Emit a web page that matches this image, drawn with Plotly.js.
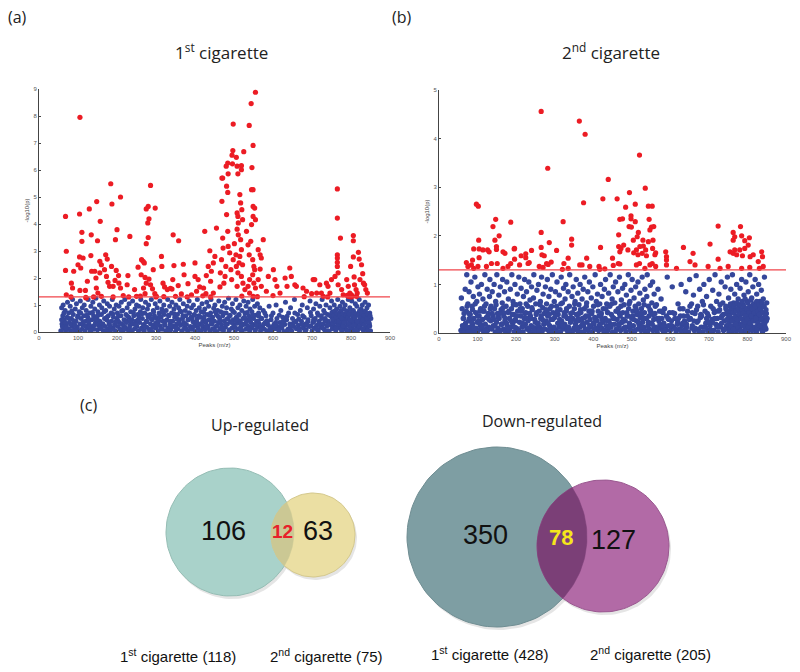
<!DOCTYPE html>
<html>
<head>
<meta charset="utf-8">
<script src="https://cdn.plot.ly/plotly-3.0.1.min.js"></script>
<style>
  body { margin: 0; background: #fff; }
  #chart { width: 800px; height: 672px; }
</style>
</head>
<body>
<div id="chart"></div>
<script>
// ---- data: [peak m/z, -log10(p)] ----
var threshold = 1.3;

var redA = [
  [105,7.95],[555,8.88],[544,8.46],[498,7.7],[539,7.65],[549,6.91],[497,6.72],[525,6.68],[495,6.55],[506,6.47],
  [484,6.26],[480,6.14],[496,6.23],[508,6.14],[519,6.16],[519,6.01],[546,6.09],[485,5.86],[510,5.86],[469,5.7],
  [68,4.28],[70,2.99],[68,2.28],[70,1.38],[104,4.37],[110,3.69],[110,3.36],[104,2.78],[100,2.49],[89,2.25],
  [83,1.81],[86,1.63],[82,1.3],[113,2.74],[107,2.37],[105,1.54],[129,4.56],[134,3.6],[148,4.83],[150,3.38],
  [133,2.83],[135,2.25],[124,1.88],[119,1.54],[121,1.26],[143,2.25],[146,2.0],[156,2.19],[157,4.1],[156,2.62],
  [147,1.63],[151,1.44],[184,5.49],[187,4.74],[171,2.86],[175,2.7],[160,2.49],[168,2.31],[173,2.06],[177,1.84],
  [181,1.69],[186,2.43],[198,2.28],[196,3.42],[200,3.79],[209,5.0],[204,2.09],[195,1.91],[205,1.81],[190,1.69],
  [209,1.63],[216,1.35],[228,2.09],[233,3.54],[226,1.75],[245,1.57],[254,2.4],[263,2.68],[267,2.62],[270,2.56],
  [262,2.12],[272,2.02],[275,1.81],[268,1.63],[272,1.42],[250,1.32],[275,3.27],[280,3.5],[279,4.04],[282,4.19],
  [275,4.56],[280,4.65],[286,5.43],[298,4.59],[293,2.31],[282,1.96],[286,1.75],[291,1.6],[297,1.42],[301,1.32],
  [314,2.8],[315,2.43],[318,1.81],[322,1.67],[329,1.57],[337,1.62],[341,1.59],[344,3.6],[346,2.46],[343,1.94],
  [357,1.72],[358,3.38],[365,1.41],[370,2.51],[372,2.12],[382,1.79],[391,1.38],[400,2.56],[400,2.06],[404,1.51],
  [408,1.94],[412,1.67],[422,1.63],[425,3.73],[428,1.42],[429,2.09],[434,2.43],[438,3.01],[440,1.88],[442,2.25],
  [447,2.56],[451,2.8],[455,3.85],[447,1.44],[464,1.67],[465,2.19],[468,2.68],[471,3.48],[472,3.11],[469,4.84],
  [471,5.7],[481,5.4],[484,5.17],[481,4.35],[484,3.73],[485,3.17],[479,2.43],[477,2.06],[474,1.81],[489,2.93],
  [492,2.31],[494,1.94],[498,2.68],[501,3.27],[505,2.86],[506,2.43],[508,4.41],[510,4.28],[511,4.04],[508,3.81],
  [511,3.6],[515,5.09],[517,4.78],[520,4.53],[522,4.16],[517,3.42],[519,3.05],[515,2.8],[513,2.56],[522,2.49],
  [510,2.19],[519,2.06],[523,1.81],[508,1.69],[528,1.57],[532,3.73],[536,3.23],[539,2.86],[545,5.27],[549,5.27],
  [549,4.65],[553,4.59],[549,4.28],[555,4.16],[545,3.98],[543,3.36],[548,2.68],[551,2.43],[553,2.31],[548,2.12],
  [540,1.94],[551,1.81],[536,1.69],[555,1.63],[540,1.44],[549,1.32],[562,3.05],[567,2.86],[570,2.74],[575,3.42],
  [567,2.33],[562,1.94],[570,1.69],[583,1.51],[588,2.06],[601,2.31],[605,1.94],[610,1.69],[618,1.44],[631,2.0],
  [636,1.69],[643,2.37],[647,2.06],[656,1.75],[660,1.69],[677,1.63],[686,1.51],[699,1.42],[703,1.94],[707,1.94],
  [712,1.44],[720,1.75],[724,1.44],[729,1.32],[737,1.81],[741,1.69],[750,1.94],[746,1.44],[759,2.06],[765,5.3],
  [765,4.22],[765,2.86],[765,2.74],[765,2.58],[765,2.43],[767,2.19],[773,3.48],[767,1.75],[776,1.57],[780,1.38],
  [789,1.94],[793,1.69],[797,1.44],[799,2.43],[801,1.38],[804,1.32],[806,3.57],[806,3.38],[806,2.78],[808,2.04],
  [809,1.75],[813,1.57],[816,1.44],[819,2.95],[821,2.7],[823,1.94],[827,2.49],[830,2.16],[832,1.81],[835,1.75],
  [838,1.57],[842,1.44],[814,1.32],[793,1.32],
  [120,1.28],[140,1.3],[160,1.32],[190,1.3],[230,1.3],[260,1.33],[300,1.3],[320,1.31],[350,1.32],[380,1.3],
  [420,1.34],[440,1.3],[520,1.33],[560,1.31],[600,1.35],[680,1.31],[740,1.3],[790,1.36],[800,1.3]
];

var blueA = [
  [56,0.05],[58,0.9],[59,0.3],[61,0.6],[62,1.0],[63,0.15],[65,0.45],[67,0.8],[68,0.05],[70,0.25],[72,0.55],[73,1.1],
  [75,0.12],[76,0.7],[78,0.35],[80,0.95],[81,0.05],[83,0.5],[85,0.2],[86,1.2],[88,0.65],[90,0.3],[91,0.08],[93,0.85],
  [95,0.4],[96,1.05],[98,0.18],[100,0.6],[101,0.02],[103,0.75],[105,0.3],[106,1.15],[108,0.5],[110,0.1],[111,0.9],
  [113,0.25],[115,0.6],[116,1.0],[118,0.05],[120,0.4],[121,0.8],[123,0.15],[125,0.55],[126,1.2],[128,0.3],[130,0.7],
  [131,0.02],[133,0.95],[135,0.45],[136,0.2],[138,1.1],[140,0.6],[141,0.1],[143,0.85],[145,0.35],[146,1.25],[148,0.5],
  [150,0.08],[151,0.75],[153,0.25],[155,1.0],[156,0.4],[158,0.12],[160,0.65],[161,0.9],[163,0.3],[165,0.05],[166,1.15],
  [168,0.5],[170,0.2],[171,0.8],[173,0.45],[175,1.05],[176,0.1],[178,0.6],[180,0.3],[181,0.95],[183,0.02],[185,0.7],
  [186,0.4],[188,1.2],[190,0.15],[191,0.55],[193,0.85],[195,0.25],[196,0.05],[198,1.0],[200,0.5],[201,0.7],[203,0.2],
  [205,0.95],[206,0.35],[208,0.1],[210,0.6],[211,1.1],[213,0.3],[215,0.8],[216,0.05],[218,0.45],[220,1.2],[221,0.18],
  [223,0.65],[225,0.4],[226,0.9],[228,0.08],[230,0.55],[231,1.05],[233,0.25],[235,0.75],[236,0.02],[238,0.45],[240,1.15],
  [241,0.3],[243,0.6],[245,0.12],[246,0.85],[248,0.4],[250,1.0],[251,0.2],[253,0.65],[255,0.05],[256,0.95],[258,0.35],
  [260,0.75],[261,1.2],[263,0.15],[265,0.5],[266,0.9],[268,0.28],[270,0.05],[271,0.7],[273,1.1],[275,0.4],[276,0.18],
  [278,0.85],[280,0.55],[281,1.0],[283,0.1],[285,0.65],[286,0.3],[288,1.2],[290,0.45],[291,0.02],[293,0.8],[295,0.25],
  [296,0.6],[298,1.05],[300,0.15],[301,0.5],[303,0.9],[305,0.35],[306,0.05],[308,0.7],[310,1.15],[311,0.22],[313,0.55],
  [315,0.85],[316,0.1],[318,0.4],[320,1.0],[321,0.65],[323,0.25],[325,0.05],[326,0.8],[328,0.45],[330,1.2],[331,0.15],
  [333,0.6],[335,0.95],[336,0.3],[338,0.08],[340,0.7],[341,1.1],[343,0.4],[345,0.2],[346,0.85],[348,0.55],[350,0.02],
  [351,1.0],[353,0.3],[355,0.65],[356,0.12],[358,0.9],[360,0.45],[361,1.2],[363,0.25],[365,0.75],[366,0.05],[368,0.5],
  [370,1.05],[371,0.35],[373,0.15],[375,0.8],[376,0.6],[378,0.28],[380,0.95],[381,0.05],[383,0.45],[385,1.15],[386,0.7],
  [388,0.2],[390,0.55],[391,0.9],[393,0.1],[395,0.38],[396,1.0],[398,0.65],[400,0.25],[401,0.02],[403,0.8],[405,0.48],
  [406,1.2],[408,0.15],[410,0.6],[411,0.9],[413,0.3],[415,0.05],[416,0.75],[418,1.05],[420,0.4],[421,0.18],[423,0.55],
  [425,0.85],[426,0.08],[428,0.35],[430,1.1],[431,0.65],[433,0.22],[435,0.95],[436,0.45],[438,0.05],[440,0.7],[441,1.2],
  [443,0.3],[445,0.55],[446,0.12],[448,0.88],[450,0.4],[451,1.0],[453,0.2],[455,0.65],[456,0.02],[458,0.8],[460,0.35],
  [461,1.15],[463,0.5],[465,0.1],[466,0.75],[468,0.28],[470,0.95],[471,0.6],[473,0.05],[475,0.42],[476,1.1],[478,0.18],
  [480,0.7],[481,0.9],[483,0.3],[485,0.5],[486,1.25],[488,0.08],[490,0.62],[491,0.38],[493,0.85],[495,0.15],[496,1.05],
  [498,0.45],[500,0.25],[501,0.72],[503,0.02],[505,1.2],[506,0.55],[508,0.32],[510,0.9],[511,0.12],[513,0.65],[515,1.0],
  [516,0.4],[518,0.2],[520,0.8],[521,0.05],[523,0.5],[525,1.15],[526,0.3],[528,0.7],[530,0.1],[531,0.95],[533,0.45],
  [535,0.22],[536,1.1],[538,0.6],[540,0.05],[541,0.85],[543,0.35],[545,0.15],[546,0.75],[548,1.2],[550,0.5],[551,0.28],
  [553,0.95],[555,0.08],[556,0.62],[558,0.4],[560,1.05],[561,0.18],[563,0.7],[565,0.3],[566,0.9],[568,0.05],[570,0.5],
  [573,0.2],[575,0.8],[578,0.1],[580,0.35],[582,0.6],[585,0.05],[588,0.25],[590,0.95],[593,0.15],[595,0.45],[598,0.08],
  [600,0.7],[603,0.3],[605,0.12],[608,1.0],[610,0.5],[612,0.2],[615,0.05],[618,0.35],[620,0.8],[623,0.15],[625,0.55],
  [628,0.02],[630,0.28],[632,1.1],[635,0.45],[638,0.1],[640,0.7],[643,0.3],[645,0.9],[648,0.05],[650,0.5],[653,0.2],
  [655,1.2],[658,0.38],[660,0.12],[663,0.65],[665,0.25],[668,0.05],[670,0.8],[673,0.4],[675,1.0],[678,0.15],[680,0.55],
  [683,0.3],[685,0.08],[688,0.9],[690,0.45],[693,0.2],[695,1.15],[698,0.6],[700,0.05],[702,0.35],[704,0.85],[706,0.15],
  [708,0.5],[710,1.05],[712,0.25],[714,0.7],[716,0.05],[718,0.4],[720,0.95],[722,0.18],[724,0.6],[726,1.2],[728,0.3],
  [730,0.8],[732,0.08],[734,0.5],[736,1.0],[738,0.22],[740,0.65],[742,0.4],[744,0.02],[746,0.9],[748,0.3],[750,1.15],
  [751,0.55],[752,0.12],[754,0.75],[755,0.4],[757,1.0],[758,0.2],[760,0.6],[761,0.05],[763,0.85],[764,0.35],[766,1.2],
  [767,0.5],[769,0.15],[770,0.7],[772,0.95],[773,0.28],[775,0.45],[776,0.05],[778,1.1],[779,0.62],[781,0.2],[782,0.85],
  [784,0.38],[785,1.0],[787,0.1],[788,0.55],[790,0.75],[791,0.25],[793,1.2],[794,0.45],[796,0.05],[797,0.9],[799,0.32],
  [800,0.65],[802,1.15],[803,0.15],[805,0.5],[806,0.8],[808,0.02],[809,0.4],[811,1.05],[812,0.6],[814,0.22],[815,0.95],
  [817,0.35],[818,0.08],[820,0.7],[821,1.2],[823,0.48],[824,0.15],[826,0.85],[827,0.3],[829,1.0],[830,0.55],[832,0.05],
  [833,0.75],[835,0.4],[836,1.1],[838,0.2],[839,0.62],[841,0.9],[842,0.1],[844,0.45],[845,1.0],[847,0.3],[848,0.7],
  [850,0.05],[851,0.5]
];

var blueA_low = [
  [60,0.2],[67,0.35],[74,0.1],[82,0.28],[89,0.42],[97,0.15],[104,0.05],[112,0.32],[119,0.22],[127,0.4],[134,0.08],
  [142,0.25],[149,0.45],[157,0.18],[164,0.3],[172,0.02],[179,0.38],[187,0.12],[194,0.28],[202,0.42],[209,0.08],[217,0.22],
  [224,0.35],[232,0.15],[239,0.05],[247,0.3],[254,0.45],[262,0.1],[269,0.25],[277,0.38],[284,0.02],[292,0.18],[299,0.32],
  [307,0.42],[314,0.12],[322,0.28],[329,0.05],[337,0.4],[344,0.22],[352,0.15],[359,0.35],[367,0.02],[374,0.28],[382,0.45],
  [389,0.1],[397,0.2],[404,0.38],[412,0.05],[419,0.25],[427,0.42],[434,0.15],[442,0.32],[449,0.08],[457,0.22],[464,0.4],
  [472,0.12],[479,0.3],[487,0.02],[494,0.35],[502,0.18],[509,0.45],[517,0.08],[524,0.28],[532,0.38],[539,0.12],[547,0.22],
  [554,0.05],[562,0.4],[569,0.15],[577,0.3],[584,0.42],[592,0.02],[599,0.2],[607,0.35],[614,0.1],[622,0.25],[629,0.42],
  [637,0.05],[644,0.18],[652,0.32],[659,0.4],[667,0.12],[674,0.28],[682,0.05],[689,0.38],[697,0.22],[704,0.45],[712,0.1],
  [719,0.3],[727,0.15],[734,0.4],[741,0.05],[749,0.25],[753,0.32],[758,0.42],[762,0.15],[767,0.28],[771,0.38],[776,0.1],
  [780,0.22],[785,0.45],[789,0.05],[794,0.3],[798,0.18],[803,0.4],[807,0.25],[812,0.08],[816,0.35],[821,0.2],[825,0.45],
  [830,0.12],[834,0.28],[839,0.38],[843,0.05],[848,0.22]
];

var blueA_mid = [
  [58,0.45],[64,0.7],[69,0.15],[77,0.5],[84,0.78],[92,0.25],[99,0.55],[107,0.7],[114,0.38],[122,0.62],[129,0.2],
  [137,0.72],[144,0.48],[152,0.62],[159,0.15],[167,0.75],[174,0.55],[182,0.22],[189,0.68],[197,0.38],[204,0.6],[212,0.78],
  [219,0.12],[227,0.58],[234,0.42],[242,0.72],[249,0.28],[257,0.55],[264,0.68],[272,0.2],[279,0.62],[287,0.5],[294,0.75],
  [302,0.28],[309,0.58],[317,0.72],[324,0.4],[332,0.62],[339,0.22],[347,0.68],[354,0.48],[362,0.78],[369,0.6],[377,0.12],
  [384,0.7],[392,0.5],[399,0.62],[407,0.3],[414,0.55],[422,0.72],[429,0.2],[437,0.62],[444,0.42],[452,0.75],[459,0.58],
  [467,0.15],[474,0.7],[482,0.48],[489,0.6],[497,0.78],[504,0.42],[512,0.62],[519,0.3],[527,0.55],[534,0.72],[542,0.48],
  [549,0.62],[557,0.25],[564,0.58],[571,0.5],[579,0.7],[586,0.38],[596,0.6],[606,0.25],[616,0.62],[626,0.4],[636,0.58],
  [646,0.22],[656,0.7],[666,0.48],[676,0.6],[686,0.25],[696,0.72],[706,0.42],[716,0.62],[725,0.5],[733,0.7],[740,0.28],
  [747,0.6],[751,0.72],[753,0.48],[756,0.62],[759,0.78],[762,0.55],[765,0.68],[768,0.4],[771,0.6],[774,0.8],[777,0.52],
  [780,0.68],[783,0.35],[786,0.62],[789,0.78],[792,0.55],[795,0.68],[798,0.45],[801,0.8],[804,0.62],[807,0.72],[810,0.52],
  [813,0.68],[816,0.4],[819,0.62],[822,0.8],[825,0.55],[828,0.68],[831,0.45],[834,0.6],[837,0.78],[840,0.52],[843,0.68],
  [846,0.35],[849,0.6]
];

var redB = [
  [265,4.56],[364,4.36],[379,4.09],[520,3.66],[282,3.39],[439,3.16],[535,2.98],[494,2.89],[425,2.76],[462,2.76],
  [375,2.68],[97,2.65],[102,2.61],[484,2.59],[509,2.65],[543,2.61],[553,2.61],[545,2.34],[147,2.34],[476,2.35],
  [498,2.41],[498,2.35],[509,2.29],[322,2.29],[186,2.28],[140,2.19],[469,2.34],[724,2.2],[782,2.19],[493,2.19],
  [499,2.18],[551,2.18],[557,2.19],[547,2.12],[265,2.07],[517,2.07],[514,1.98],[156,2.0],[763,2.07],[767,1.98],
  [785,2.0],[805,1.96],[466,2.02],[103,1.91],[145,1.91],[344,1.93],[504,1.91],[529,1.91],[543,1.88],[555,1.91],
  [763,1.91],[793,1.9],[90,1.73],[104,1.73],[149,1.78],[149,1.72],[195,1.73],[286,1.86],[344,1.81],[265,1.76],
  [419,1.76],[466,1.78],[472,1.74],[469,1.67],[479,1.81],[490,1.71],[505,1.65],[512,1.71],[521,1.78],[530,1.79],
  [536,1.71],[527,1.64],[516,1.61],[538,1.59],[554,1.74],[560,1.61],[562,1.65],[588,1.67],[590,1.57],[590,1.5],
  [634,1.76],[659,1.64],[703,1.83],[724,1.52],[755,1.67],[763,1.64],[767,1.71],[772,1.61],[780,1.71],[787,1.59],
  [793,1.74],[802,1.81],[807,1.57],[815,1.61],[828,1.47],[837,1.67],[839,1.57],[841,1.37],[114,1.71],[126,1.71],
  [130,1.67],[166,1.67],[171,1.64],[196,1.74],[213,1.59],[225,1.63],[240,1.7],[231,1.43],[234,1.45],[267,1.61],
  [273,1.59],[279,1.43],[283,1.41],[291,1.46],[305,1.7],[324,1.43],[335,1.54],[371,1.4],[383,1.54],[415,1.37],
  [417,1.31],[450,1.54],[465,1.43],[469,1.42],[512,1.4],[520,1.43],[534,1.33],[547,1.4],[553,1.43],[562,1.37],
  [71,1.45],[75,1.37],[84,1.4],[87,1.5],[90,1.33],[101,1.37],[104,1.55],[123,1.37],[136,1.43],[151,1.43],
  [166,1.33],[179,1.37],[186,1.43],[196,1.52],[209,1.4],[225,1.55],[260,1.37],[270,1.35],[320,1.31],[335,1.33],
  [365,1.4],[391,1.37],[430,1.32],[452,1.39],[590,1.4],[616,1.33],[651,1.47],[664,1.4],[698,1.37],[729,1.33],
  [750,1.37],[806,1.35],[831,1.33],[785,1.33]
];

var blueB = [
  [57,0.05],[58,0.72],[60,0.5],[62,0.1],[64,0.3],[66,0.02],[68,0.9],[69,0.2],[71,0.45],[72,1.2],[74,0.08],[75,0.6],
  [77,0.25],[78,0.85],[80,0.12],[81,0.38],[83,1.05],[84,0.05],[86,0.55],[87,0.18],[89,0.75],[90,0.3],[92,0.02],[93,1.15],
  [95,0.42],[96,0.1],[98,0.65],[99,0.22],[101,0.95],[102,0.05],[104,0.35],[105,0.8],[107,0.15],[108,0.5],[110,1.0],
  [111,0.08],[113,0.28],[114,0.7],[116,0.02],[117,0.45],[119,1.2],[120,0.18],[122,0.6],[123,0.32],[125,0.9],[126,0.05],
  [128,0.4],[129,0.12],[131,0.75],[132,1.1],[134,0.25],[135,0.55],[137,0.08],[138,0.85],[140,0.35],[141,0.15],[143,1.0],
  [144,0.5],[146,0.02],[147,0.65],[149,0.22],[150,1.2],[152,0.4],[153,0.1],[155,0.78],[156,0.3],[158,0.05],[159,0.95],
  [161,0.48],[162,0.18],[164,0.62],[165,1.1],[167,0.08],[168,0.35],[170,0.85],[171,0.25],[173,0.02],[174,0.55],[176,1.05],
  [177,0.15],[179,0.42],[180,0.7],[182,0.05],[183,0.3],[185,0.9],[186,0.12],[188,0.5],[189,1.2],[191,0.2],[192,0.65],
  [194,0.38],[195,0.02],[197,1.0],[198,0.28],[200,0.58],[201,0.1],[203,0.8],[204,0.45],[206,0.05],[207,1.15],[209,0.22],
  [210,0.6],[212,0.35],[213,0.92],[215,0.12],[216,0.5],[218,0.02],[219,0.75],[221,0.3],[222,1.1],[224,0.18],[225,0.42],
  [227,0.85],[228,0.08],[230,0.55],[231,0.25],[233,1.05],[234,0.05],[236,0.68],[237,0.35],[239,0.15],[240,0.95],[242,0.48],
  [243,0.02],[245,0.72],[246,1.2],[248,0.28],[249,0.1],[251,0.6],[252,0.38],[254,0.88],[255,0.05],[257,0.2],[258,1.0],
  [260,0.45],[261,0.12],[263,0.65],[264,0.3],[266,1.15],[267,0.02],[269,0.52],[270,0.8],[272,0.18],[273,0.4],[275,0.08],
  [276,0.95],[278,0.25],[279,0.6],[281,1.1],[282,0.35],[284,0.05],[285,0.75],[287,0.15],[288,0.5],[290,0.9],[291,0.28],
  [293,0.02],[294,1.2],[296,0.42],[297,0.1],[299,0.65],[300,0.32],[302,0.85],[303,0.05],[305,0.55],[306,1.05],[308,0.2],
  [309,0.38],[311,0.12],[312,0.78],[314,0.48],[315,0.02],[317,1.15],[318,0.25],[320,0.62],[321,0.08],[323,0.92],[324,0.35],
  [326,0.18],[327,0.7],[329,1.0],[330,0.45],[332,0.05],[333,0.3],[335,0.85],[336,0.12],[338,0.55],[339,1.2],[341,0.22],
  [342,0.4],[344,0.02],[345,0.75],[347,0.3],[348,0.95],[350,0.1],[351,0.5],[353,0.65],[354,0.18],[356,1.1],[357,0.38],
  [359,0.05],[360,0.82],[362,0.25],[363,0.58],[365,0.12],[366,1.0],[368,0.42],[369,0.02],[371,0.7],[372,0.3],[374,0.9],
  [375,0.15],[377,0.5],[378,1.15],[380,0.08],[381,0.35],[383,0.62],[384,0.22],[386,0.85],[387,0.05],[389,0.45],[390,1.05],
  [392,0.28],[393,0.12],[395,0.72],[396,0.4],[398,0.02],[399,0.95],[401,0.55],[402,0.18],[404,0.32],[405,1.2],[407,0.08],
  [408,0.65],[410,0.25],[411,0.8],[413,0.45],[414,0.05],[416,0.15],[417,0.6],[419,1.0],[420,0.35],[422,0.1],[423,0.75],
  [425,0.22],[426,0.5],[428,0.02],[429,0.9],[431,0.3],[432,1.1],[434,0.15],[435,0.6],[437,0.42],[438,0.05],[440,0.82],
  [441,0.25],[443,0.55],[444,1.2],[446,0.12],[447,0.38],[449,0.7],[450,0.02],[452,0.95],[453,0.3],[455,0.18],[456,0.62],
  [458,1.05],[459,0.45],[461,0.08],[462,0.28],[464,0.85],[465,0.5],[467,0.15],[468,1.15],[470,0.35],[471,0.05],[473,0.68],
  [474,0.22],[476,0.92],[477,0.42],[479,0.1],[480,0.58],[482,1.0],[483,0.25],[485,0.02],[486,0.78],[488,0.35],[489,0.12],
  [491,1.2],[492,0.5],[494,0.2],[495,0.65],[497,0.05],[498,0.88],[500,0.3],[501,1.1],[503,0.45],[504,0.15],[506,0.72],
  [507,0.02],[509,0.55],[510,0.95],[512,0.25],[513,0.38],[515,0.08],[516,1.05],[518,0.6],[519,0.18],[521,0.82],[522,0.32],
  [524,0.05],[525,0.5],[527,1.15],[528,0.22],[530,0.68],[531,0.12],[533,0.42],[534,0.9],[536,0.02],[537,0.3],[539,0.75],
  [540,1.2],[542,0.15],[543,0.55],[545,0.35],[546,0.08],[548,0.98],[549,0.45],[551,0.2],[552,0.62],[554,1.05],[555,0.05],
  [557,0.28],[558,0.8],[560,0.4],[562,0.12],[564,0.58],[566,0.02],[568,0.9],[570,0.25],[572,0.45],[574,0.1],[576,0.7],
  [578,0.3],[580,0.05],[583,0.2],[585,0.5],[588,0.08],[590,0.35],[592,1.15],[595,0.15],[598,0.42],[600,0.05],[603,0.25],
  [605,0.95],[608,0.12],[612,0.3],[615,0.02],[618,0.18],[620,0.6],[623,0.08],[626,0.35],[628,1.0],[630,0.15],[633,0.5],
  [635,0.05],[637,0.25],[640,0.85],[642,0.12],[645,0.45],[647,0.02],[650,1.1],[652,0.3],[655,0.6],[657,0.15],[660,0.78],
  [662,0.05],[664,0.4],[667,1.18],[669,0.22],[671,0.55],[673,0.08],[676,0.9],[678,0.32],[680,0.12],[683,0.65],[685,0.02],
  [687,1.0],[690,0.45],[692,0.2],[694,0.75],[697,0.05],[699,0.35],[701,1.1],[703,0.15],[705,0.55],[708,0.28],[710,0.88],
  [712,0.05],[714,0.42],[716,1.2],[718,0.18],[720,0.65],[722,0.3],[724,0.02],[726,0.8],[728,0.48],[730,0.12],[732,1.05],
  [734,0.35],[736,0.62],[738,0.05],[740,0.25],[742,0.95],[744,0.5],[746,0.15],[748,1.15],[749,0.38],[751,0.72],[752,0.08],
  [754,0.55],[755,0.25],[757,0.9],[758,0.42],[760,0.02],[761,1.2],[763,0.3],[764,0.62],[766,0.15],[767,0.8],[769,0.48],
  [770,0.05],[772,1.0],[773,0.35],[775,0.22],[776,0.7],[778,0.55],[779,0.1],[781,0.92],[782,0.4],[784,0.18],[785,1.1],
  [787,0.6],[788,0.28],[790,0.02],[791,0.78],[793,0.45],[794,0.12],[796,1.05],[797,0.35],[799,0.65],[800,0.2],[802,0.85],
  [803,0.05],[805,0.5],[806,1.2],[808,0.3],[809,0.15],[811,0.72],[812,0.42],[814,0.95],[815,0.08],[817,0.58],[818,0.25],
  [820,1.1],[821,0.38],[823,0.02],[824,0.8],[826,0.5],[827,0.18],[829,1.0],[830,0.32],[832,0.65],[833,0.1],[835,0.45],
  [836,0.88],[838,0.05],[839,0.28],[841,0.7],[842,0.55],[844,1.15],[845,0.2],[847,0.4],[848,0.08],[850,0.62],[851,0.3]
];

var blueB_low = [
  [63,0.3],[70,0.12],[78,0.4],[85,0.22],[93,0.05],[100,0.35],[108,0.18],[115,0.45],[123,0.08],[130,0.28],[138,0.4],
  [145,0.15],[153,0.32],[160,0.05],[168,0.42],[175,0.2],[183,0.1],[190,0.38],[198,0.25],[205,0.05],[213,0.45],[220,0.15],
  [228,0.3],[235,0.4],[243,0.12],[250,0.22],[258,0.05],[265,0.35],[273,0.2],[280,0.45],[288,0.1],[295,0.28],[303,0.38],
  [310,0.02],[318,0.18],[325,0.42],[333,0.12],[340,0.3],[348,0.05],[355,0.25],[363,0.4],[370,0.15],[378,0.32],[385,0.08],
  [393,0.45],[400,0.2],[408,0.1],[415,0.35],[423,0.28],[430,0.05],[438,0.42],[445,0.18],[453,0.3],[460,0.08],[468,0.4],
  [475,0.22],[483,0.12],[490,0.35],[498,0.05],[505,0.28],[513,0.45],[520,0.15],[528,0.32],[535,0.05],[543,0.22],[550,0.4],
  [558,0.1],[565,0.3],[573,0.18],[581,0.42],[588,0.05],[596,0.28],[604,0.15],[611,0.4],[619,0.22],[627,0.05],[634,0.35],
  [642,0.18],[649,0.28],[657,0.42],[664,0.1],[672,0.25],[679,0.38],[687,0.12],[694,0.3],[702,0.05],[709,0.22],[717,0.45],
  [724,0.15],[732,0.32],[739,0.08],[745,0.4],[750,0.18],[755,0.3],[759,0.1],[764,0.42],[768,0.22],[773,0.05],[777,0.35],
  [782,0.15],[786,0.45],[791,0.28],[795,0.08],[800,0.38],[804,0.2],[809,0.12],[813,0.32],[818,0.42],[822,0.05],[827,0.25],
  [831,0.38],[836,0.15],[840,0.3],[845,0.08],[849,0.4]
];

var blueB_mid = [
  [61,0.15],[65,0.4],[73,0.55],[76,0.02],[79,0.3],[87,0.48],[91,0.1],[94,0.6],[103,0.25],[106,0.45],[112,0.12],[118,0.55],
  [121,0.05],[127,0.35],[133,0.5],[136,0.1],[142,0.28],[148,0.58],[151,0.02],[157,0.4],[163,0.18],[166,0.52],[172,0.3],
  [178,0.08],[181,0.45],[187,0.25],[193,0.58],[196,0.12],[202,0.35],[208,0.02],[211,0.5],[217,0.2],[223,0.4],[226,0.6],
  [232,0.1],[238,0.3],[241,0.52],[247,0.05],[253,0.42],[256,0.18],[262,0.58],[268,0.28],[271,0.08],[277,0.48],[283,0.2],
  [286,0.38],[292,0.55],[298,0.12],[301,0.02],[307,0.45],[313,0.28],[316,0.6],[322,0.15],[328,0.35],[331,0.5],[337,0.05],
  [343,0.25],[346,0.42],[352,0.6],[358,0.1],[361,0.3],[367,0.48],[373,0.2],[376,0.02],[382,0.55],[388,0.35],[391,0.15],
  [397,0.45],[403,0.08],[406,0.28],[412,0.58],[418,0.18],[421,0.4],[427,0.05],[433,0.5],[436,0.25],[442,0.12],[448,0.6],
  [451,0.32],[457,0.02],[463,0.45],[466,0.18],[472,0.55],[478,0.28],[481,0.08],[487,0.42],[493,0.6],[496,0.15],[502,0.35],
  [508,0.05],[511,0.5],[517,0.22],[523,0.4],[526,0.12],[532,0.58],[538,0.3],[541,0.02],[547,0.48],[553,0.18],[556,0.38],
  [561,0.55],[567,0.1],[571,0.3],[577,0.45],[582,0.15],[586,0.05],[594,0.3],[601,0.15],[606,0.42],[613,0.08],[621,0.3],
  [625,0.5],[632,0.2],[639,0.05],[644,0.35],[651,0.55],[656,0.1],[661,0.25],[668,0.48],[674,0.02],[681,0.35],[686,0.58],
  [691,0.12],[696,0.4],[700,0.22],[706,0.05],[711,0.5],[715,0.3],[721,0.12],[725,0.45],[729,0.58],[733,0.2],[737,0.38],
  [741,0.08],[744,0.55],[747,0.28],[750,0.45],[752,0.02],[754,0.35],[756,0.6],[757,0.15],[759,0.5],[761,0.25],[762,0.42],
  [764,0.08],[765,0.55],[767,0.32],[768,0.6],[770,0.18],[771,0.45],[772,0.62],[774,0.28],[776,0.5],[777,0.1],[779,0.38],
  [780,0.58],[782,0.05],[783,0.3],[785,0.48],[786,0.65],[788,0.15],[789,0.4],[791,0.55],[792,0.22],[794,0.7],[795,0.35],
  [797,0.05],[798,0.5],[800,0.28],[801,0.62],[803,0.12],[804,0.42],[806,0.55],[807,0.2],[809,0.68],[810,0.35],[812,0.05],
  [813,0.5],[815,0.25],[816,0.6],[818,0.42],[819,0.12],[821,0.55],[822,0.3],[824,0.65],[825,0.08],[827,0.45],[828,0.2],
  [830,0.58],[831,0.38],[833,0.15],[834,0.5],[836,0.28],[837,0.62],[839,0.02],[840,0.42],[842,0.2],[843,0.55],[845,0.35],
  [846,0.12],[848,0.48],[849,0.25]
];

// ---- Venn counts ----
var upCounts = [106, 12, 63];       // only 1st, both, only 2nd
var upTotals = [118, 75];
var downCounts = [350, 78, 127];
var downTotals = [428, 205];

// ---- styles / geometry ----
var BLUE = '#35479b', RED = '#ec1c24';
var vennUp = { cx: [230, 313], cy: [532, 535], r: [64, 42],
               fill: ['#a9d2ca', '#ebdfa3'], lens: '#cbc894', edge: ['#95bdb4', '#d4c88c'] };
var vennDown = { cx: [497, 603], cy: [537, 546], r: [90, 66],
                 fill: ['#7e9ea3', '#b26aa6'], lens: '#7b3f77', edge: ['#6f8d92', '#9a5890'] };

function col(arr, i) { return arr.map(function (d) { return d[i]; }); }

function circlePts(cx, cy, r) {
  var xs = [], ys = [];
  for (var k = 0; k <= 120; k++) {
    var t = 2 * Math.PI * k / 120;
    xs.push(cx + r * Math.cos(t)); ys.push(cy + r * Math.sin(t));
  }
  return { x: xs, y: ys };
}

function lensPts(g) {
  var dx = g.cx[1] - g.cx[0], dy = g.cy[1] - g.cy[0];
  var d = Math.sqrt(dx * dx + dy * dy);
  var r1 = g.r[0], r2 = g.r[1];
  var a = (r1 * r1 - r2 * r2 + d * d) / (2 * d);
  var phi = Math.atan2(dy, dx);
  var al = Math.acos(a / r1), be = Math.acos((d - a) / r2);
  var xs = [], ys = [], k, t;
  for (k = 0; k <= 40; k++) {
    t = phi - al + 2 * al * k / 40;
    xs.push(g.cx[0] + r1 * Math.cos(t)); ys.push(g.cy[0] + r1 * Math.sin(t));
  }
  for (k = 0; k <= 40; k++) {
    t = phi + Math.PI - be + 2 * be * k / 40;
    xs.push(g.cx[1] + r2 * Math.cos(t)); ys.push(g.cy[1] + r2 * Math.sin(t));
  }
  return { x: xs, y: ys };
}

function vennTraces(g) {
  var out = [];
  for (var i = 0; i < 2; i++) {
    // faint drop shadow under each circle
    var s = circlePts(g.cx[i] + 2, g.cy[i] + 3, g.r[i]);
    out.push({ x: s.x, y: s.y, xaxis: 'x3', yaxis: 'y3', mode: 'lines', fill: 'toself',
      fillcolor: 'rgba(0,0,0,0.10)', line: { width: 0 }, hoverinfo: 'skip' });
  }
  for (i = 0; i < 2; i++) {
    var c = circlePts(g.cx[i], g.cy[i], g.r[i]);
    out.push({ x: c.x, y: c.y, xaxis: 'x3', yaxis: 'y3', mode: 'lines', fill: 'toself',
      fillcolor: g.fill[i], line: { color: g.edge[i], width: 1 }, hoverinfo: 'skip' });
  }
  var l = lensPts(g);
  out.push({ x: l.x, y: l.y, xaxis: 'x3', yaxis: 'y3', mode: 'lines', fill: 'toself',
    fillcolor: g.lens, line: { color: g.lens, width: 0.5 }, hoverinfo: 'skip' });
  return out;
}

function scatterTraces(blue, red, xa, ya, bsize) {
  return [
    { x: col(blue, 0), y: col(blue, 1), xaxis: xa, yaxis: ya, mode: 'markers', type: 'scatter',
      marker: { color: BLUE, size: bsize }, hoverinfo: 'skip' },
    { x: col(red, 0), y: col(red, 1), xaxis: xa, yaxis: ya, mode: 'markers', type: 'scatter',
      marker: { color: RED, size: 5.2 }, hoverinfo: 'skip' },
    { x: [0, 900], y: [threshold, threshold], xaxis: xa, yaxis: ya, mode: 'lines',
      line: { color: '#f0444a', width: 1.2 }, hoverinfo: 'skip' }
  ];
}

var data = []
  .concat(scatterTraces(blueA.concat(blueA_low, blueA_mid), redA, 'x', 'y', 5))
  .concat(scatterTraces(blueB.concat(blueB_low, blueB_mid), redB, 'x2', 'y2', 5.4))
  .concat(vennTraces(vennUp))
  .concat(vennTraces(vennDown));

var tickFont = { family: 'Liberation Sans, Arial', size: 6, color: '#555' };
function xAx(dom) {
  return { domain: dom, range: [0, 900], dtick: 100, ticks: 'inside', ticklen: 2, tickcolor: '#444',
    showline: true, linecolor: '#444', linewidth: 1, showgrid: false, zeroline: false,
    tickfont: tickFont, title: { text: 'Peaks (m/z)', font: { family: 'Liberation Sans, Arial', size: 6, color: '#444' }, standoff: 2 } };
}
function yAx(dom, top) {
  return { domain: dom, range: [0, top], dtick: 1, ticks: 'inside', ticklen: 2, tickcolor: '#444',
    showline: true, linecolor: '#444', linewidth: 1, showgrid: false, zeroline: false,
    tickfont: tickFont, title: { text: '-log10(p)', font: { family: 'Liberation Sans, Arial', size: 6, color: '#444' }, standoff: 3 } };
}

var W = 800, H = 672;
function px(x) { return x / W; }
function py(y) { return 1 - y / H; }

var capFont = { family: 'Open Sans, sans-serif', size: 16, color: '#222' };
var numFont = { family: 'Liberation Sans, Arial', size: 27, color: '#111' };
var lblFont = { family: 'Liberation Sans, Arial', size: 15, color: '#111' };

function pa(x, y, text, font) {
  return { xref: 'paper', yref: 'paper', x: px(x), y: py(y), text: text, showarrow: false,
    xanchor: 'center', yanchor: 'middle', font: font };
}
function va(x, y, text, font) {
  return { xref: 'x3', yref: 'y3', x: x, y: y, text: text, showarrow: false,
    xanchor: 'center', yanchor: 'middle', font: font };
}

var annotations = [
  pa(17, 17, '(a)', capFont),
  pa(402, 17, '(b)', capFont),
  pa(88, 405, '(c)', capFont),
  pa(221, 52, '1<sup>st</sup> cigarette', { family: 'Open Sans, sans-serif', size: 17, color: '#222' }),
  pa(611, 52, '2<sup>nd</sup> cigarette', { family: 'Open Sans, sans-serif', size: 17, color: '#222' }),
  pa(260, 425, 'Up-regulated', capFont),
  pa(542, 421, 'Down-regulated', capFont),
  va(223, 531, String(upCounts[0]), numFont),
  va(282, 531, '<b>' + upCounts[1] + '</b>', { family: 'Liberation Sans, Arial', size: 19, color: '#e8202a' }),
  va(318, 531, String(upCounts[2]), numFont),
  va(485, 535, String(downCounts[0]), numFont),
  va(561, 537, '<b>' + downCounts[1] + '</b>', { family: 'Liberation Sans, Arial', size: 22, color: '#f5e61c' }),
  va(613, 540, String(downCounts[2]), numFont),
  va(178, 655, '1<sup>st</sup> cigarette (' + upTotals[0] + ')', lblFont),
  va(326, 655, '2<sup>nd</sup> cigarette (' + upTotals[1] + ')', lblFont),
  va(489, 653, '1<sup>st</sup> cigarette (' + downTotals[0] + ')', lblFont),
  va(650, 653, '2<sup>nd</sup> cigarette (' + downTotals[1] + ')', lblFont)
];

var layout = {
  width: W, height: H,
  margin: { l: 0, r: 0, t: 0, b: 0 },
  paper_bgcolor: '#fff', plot_bgcolor: 'rgba(0,0,0,0)',
  showlegend: false,
  xaxis: xAx([px(39), px(390)]),
  yaxis: yAx([py(332), py(89)], 9),
  xaxis2: xAx([px(439), px(786)]),
  yaxis2: yAx([py(333), py(90)], 5),
  xaxis3: { domain: [0, 1], range: [0, W], visible: false, fixedrange: true },
  yaxis3: { domain: [0, py(430)], range: [H, 430], visible: false, fixedrange: true },
  annotations: annotations
};
layout.yaxis.anchor = 'x';
layout.yaxis2.anchor = 'x2';
layout.xaxis2.anchor = 'y2';
layout.yaxis3.anchor = 'x3';
layout.xaxis3.anchor = 'y3';

Plotly.newPlot('chart', data, layout, { staticPlot: true });
</script>
</body>
</html>
